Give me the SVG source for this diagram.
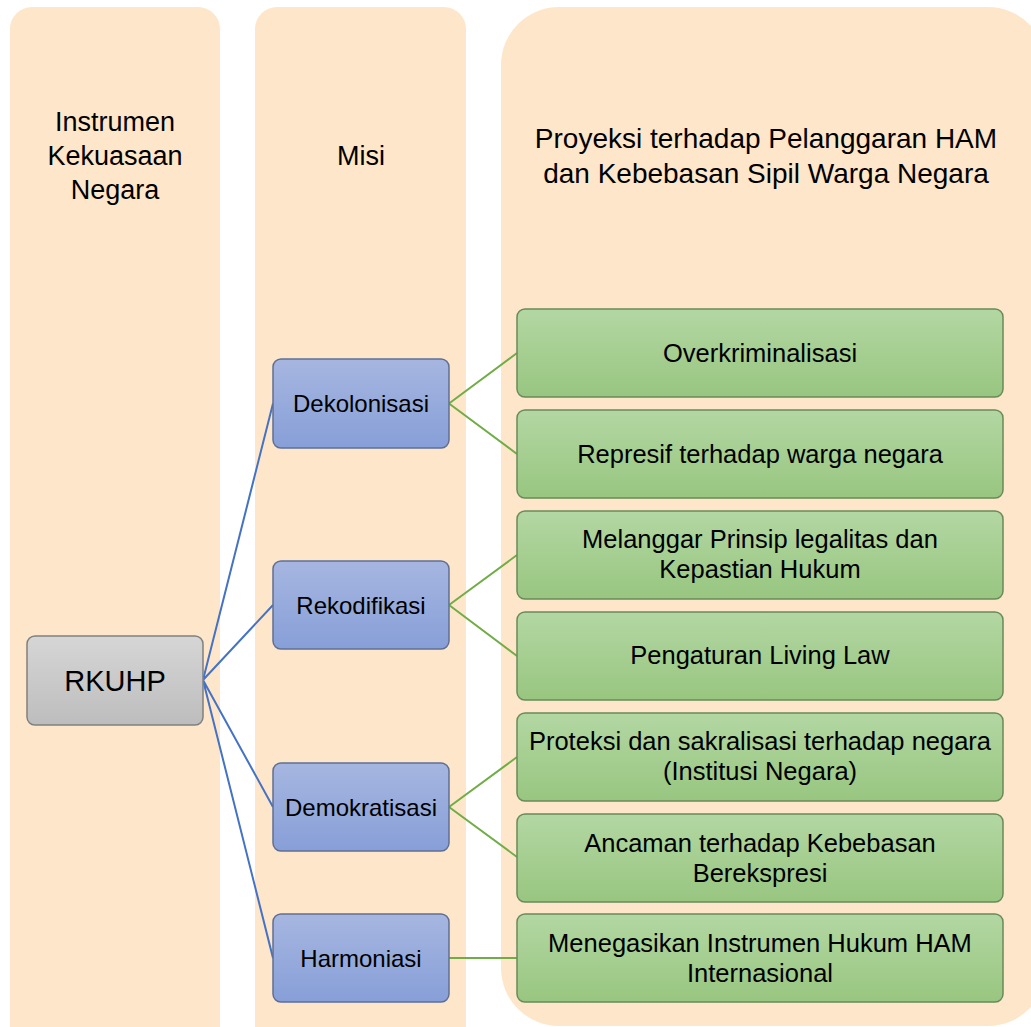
<svg xmlns="http://www.w3.org/2000/svg" width="1031" height="1027" viewBox="0 0 1031 1027">
<defs>
<linearGradient id="gGray" x1="0" y1="0" x2="0" y2="1"><stop offset="0" stop-color="#d6d6d6"/><stop offset="1" stop-color="#bdbdbd"/></linearGradient>
<linearGradient id="gBlue" x1="0" y1="0" x2="0" y2="1"><stop offset="0" stop-color="#a6b6e0"/><stop offset="1" stop-color="#879fd8"/></linearGradient>
<linearGradient id="gGreen" x1="0" y1="0" x2="0" y2="1"><stop offset="0" stop-color="#b3d7a3"/><stop offset="1" stop-color="#98c680"/></linearGradient>
<style>
text{font-family:"Liberation Sans",Arial,sans-serif;fill:#000;text-anchor:middle}
.col{fill:#fee6ca}
.head{font-size:27px}
.gray{fill:url(#gGray);stroke:#808080;stroke-width:1.5}
.blue{fill:url(#gBlue);stroke:#5f6f94;stroke-width:1.5}
.green{fill:url(#gGreen);stroke:#6a8a5a;stroke-width:1.5}
.bt{font-size:24px}
.gt{font-size:25.5px}
.cb{stroke:#4472c4;stroke-width:2;fill:none}
.cg{stroke:#70ad47;stroke-width:2;fill:none}
</style>
</defs>
<rect width="1031" height="1027" fill="#ffffff"/>
<g id="col1"><rect class="col" x="10" y="7" width="210" height="1040" rx="22"/>
<text class="head" x="115" y="131">Instrumen</text><text class="head" x="115" y="165">Kekuasaan</text><text class="head" x="115" y="199">Negara</text></g>
<g id="col2"><rect class="col" x="255" y="7" width="211" height="1040" rx="22"/>
<text class="head" x="361" y="165">Misi</text></g>
<g id="col3"><rect class="col" x="501" y="7" width="545" height="1019" rx="58"/>
<text class="head" x="766" y="148" style="font-size:28px">Proyeksi terhadap Pelanggaran HAM</text><text class="head" x="766" y="183" style="font-size:28px">dan Kebebasan Sipil Warga Negara</text></g>
<g id="connectors">
<path class="cb" d="M203 680L273 403.5M203 680L273 605M203 680L273 807M203 680L273 958"/>
<path class="cg" d="M449 403.5L517 353M449 403.5L517 454M449 605L517 555M449 605L517 656M449 807L517 757M449 807L517 857M449 958L517 958"/>
</g>
<g id="rkuhp"><rect class="gray" x="27" y="636" width="176" height="89" rx="8"/><text x="115" y="691" style="font-size:29px">RKUHP</text></g>
<g id="dekolonisasi"><rect class="blue" x="273" y="359" width="176" height="89" rx="8"/><text class="bt" x="361" y="412">Dekolonisasi</text></g>
<g id="rekodifikasi"><rect class="blue" x="273" y="561" width="176" height="88" rx="8"/><text class="bt" x="361" y="614">Rekodifikasi</text></g>
<g id="demokratisasi"><rect class="blue" x="273" y="763" width="176" height="88" rx="8"/><text class="bt" x="361" y="816">Demokratisasi</text></g>
<g id="harmoniasi"><rect class="blue" x="273" y="914" width="176" height="88" rx="8"/><text class="bt" x="361" y="967">Harmoniasi</text></g>
<g id="overkriminalisasi"><rect class="green" x="517" y="309" width="486" height="88" rx="8"/><text class="gt" x="760" y="362">Overkriminalisasi</text></g>
<g id="represif"><rect class="green" x="517" y="410" width="486" height="88" rx="8"/><text class="gt" x="760" y="463">Represif terhadap warga negara</text></g>
<g id="melanggar"><rect class="green" x="517" y="511" width="486" height="88" rx="8"/><text class="gt" x="760" y="548">Melanggar Prinsip legalitas dan</text><text class="gt" x="760" y="578">Kepastian Hukum</text></g>
<g id="pengaturan"><rect class="green" x="517" y="612" width="486" height="88" rx="8"/><text class="gt" x="760" y="664">Pengaturan Living Law</text></g>
<g id="proteksi"><rect class="green" x="517" y="713" width="486" height="88" rx="8"/><text class="gt" x="760" y="750">Proteksi dan sakralisasi terhadap negara</text><text class="gt" x="760" y="780">(Institusi Negara)</text></g>
<g id="ancaman"><rect class="green" x="517" y="814" width="486" height="88" rx="8"/><text class="gt" x="760" y="852">Ancaman terhadap Kebebasan</text><text class="gt" x="760" y="882">Berekspresi</text></g>
<g id="menegasikan"><rect class="green" x="517" y="914" width="486" height="88" rx="8"/><text class="gt" x="760" y="952">Menegasikan Instrumen Hukum HAM</text><text class="gt" x="760" y="982">Internasional</text></g>
</svg>
